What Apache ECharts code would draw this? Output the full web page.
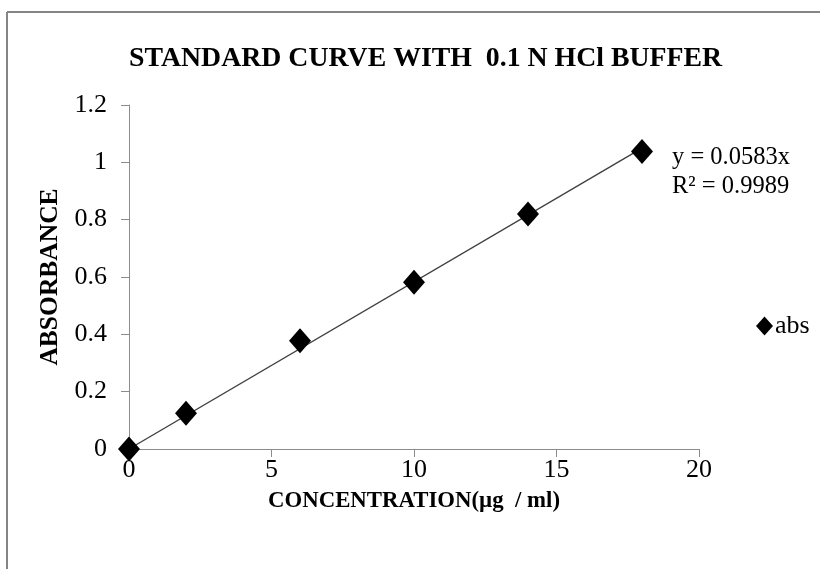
<!DOCTYPE html>
<html>
<head>
<meta charset="utf-8">
<title>Standard curve</title>
<script src="https://cdn.jsdelivr.net/npm/echarts@6/dist/echarts.min.js"></script>
<style>
    html, body { margin: 0; padding: 0; background: #fff; }
    #main { width: 820px; height: 569px; }
</style>
</head>
<body>
<div id="main"></div>
<script>
// data
let concentration = [0, 2, 6, 10, 14, 18]
let absorbance = [0, 0.125, 0.378, 0.582, 0.82, 1.038]

// linear trendline through origin, as printed on the chart
let slope = 0.0583
let rSquared = 0.9989
let trendX = [0, 18]

let xTicks = [0, 5, 10, 15, 20]
let yTicks = [0, 0.2, 0.4, 0.6, 0.8, 1, 1.2]

let serif = 'Liberation Serif'

function renderChart() {
    var myChart = echarts.init(document.getElementById('main'))

    let points = concentration.map((c, i) => [c, absorbance[i]])
    let trend = trendX.map(x => [x, +(slope * x).toFixed(4)])

    var option = {
        backgroundColor: '#fff',
        animation: false,
        title: {
            text: 'STANDARD CURVE WITH  0.1 N HCl BUFFER',
            left: 124,
            top: 40,
            textStyle: {
                fontFamily: serif,
                fontWeight: 'bold',
                fontSize: 27.8,
                color: '#000'
            }
        },
        legend: {
            data: [{ name: 'abs', icon: 'diamond' }],
            orient: 'vertical',
            left: 751,
            top: 308,
            itemWidth: 17,
            itemHeight: 19,
            itemGap: 4,
            itemStyle: { opacity: 1 },
            textStyle: { fontFamily: serif, fontSize: 26, color: '#000', padding: [0, 0, 0, -3] }
        },
        grid: { left: 129, right: 121, top: 105, bottom: 120 },
        xAxis: {
            type: 'value',
            min: xTicks[0],
            max: xTicks[xTicks.length - 1],
            interval: 5,
            name: 'CONCENTRATION(µg  / ml)',
            nameLocation: 'middle',
            nameGap: 41,
            nameTextStyle: { fontFamily: serif, fontWeight: 'bold', fontSize: 22.8, color: '#000' },
            axisLine: { lineStyle: { color: '#8c8c8c', width: 1 } },
            axisTick: { show: true, length: 8, lineStyle: { color: '#8c8c8c' } },
            axisLabel: { fontFamily: serif, fontSize: 26, color: '#000', margin: 8 },
            splitLine: { show: false }
        },
        yAxis: {
            type: 'value',
            min: yTicks[0],
            max: yTicks[yTicks.length - 1],
            interval: 0.2,
            name: 'ABSORBANCE',
            nameLocation: 'middle',
            nameGap: 66,
            nameTextStyle: { fontFamily: serif, fontWeight: 'bold', fontSize: 25.5, color: '#000' },
            axisLine: { show: true, lineStyle: { color: '#8c8c8c', width: 1 } },
            axisTick: { show: true, length: 8, lineStyle: { color: '#8c8c8c' } },
            axisLabel: { fontFamily: serif, fontSize: 26, color: '#000', margin: 22 },
            splitLine: { show: false }
        },
        graphic: [
            // outer frame (top and left edges visible in the picture)
            { type: 'line', shape: { x1: 7, y1: 12, x2: 820, y2: 12 }, style: { stroke: '#858585', lineWidth: 2 } },
            { type: 'line', shape: { x1: 7, y1: 12, x2: 7, y2: 569 }, style: { stroke: '#858585', lineWidth: 2 } },
            {
                type: 'text',
                left: 672,
                top: 143,
                style: {
                    text: 'y = ' + slope + 'x\nR² = ' + rSquared,
                    fontFamily: serif,
                    fontSize: 24.5,
                    lineHeight: 29,
                    fill: '#000'
                }
            }
        ],
        series: [
            {
                name: 'trend',
                type: 'line',
                data: trend,
                symbol: 'none',
                lineStyle: { color: '#404040', width: 1.4 },
                z: 1
            },
            {
                name: 'abs',
                type: 'scatter',
                data: points,
                symbol: 'diamond',
                symbolSize: [22, 25],
                itemStyle: { color: '#000', opacity: 1 },
                z: 3
            }
        ]
    }

    myChart.setOption(option)
}

renderChart()
</script>
</body>
</html>
